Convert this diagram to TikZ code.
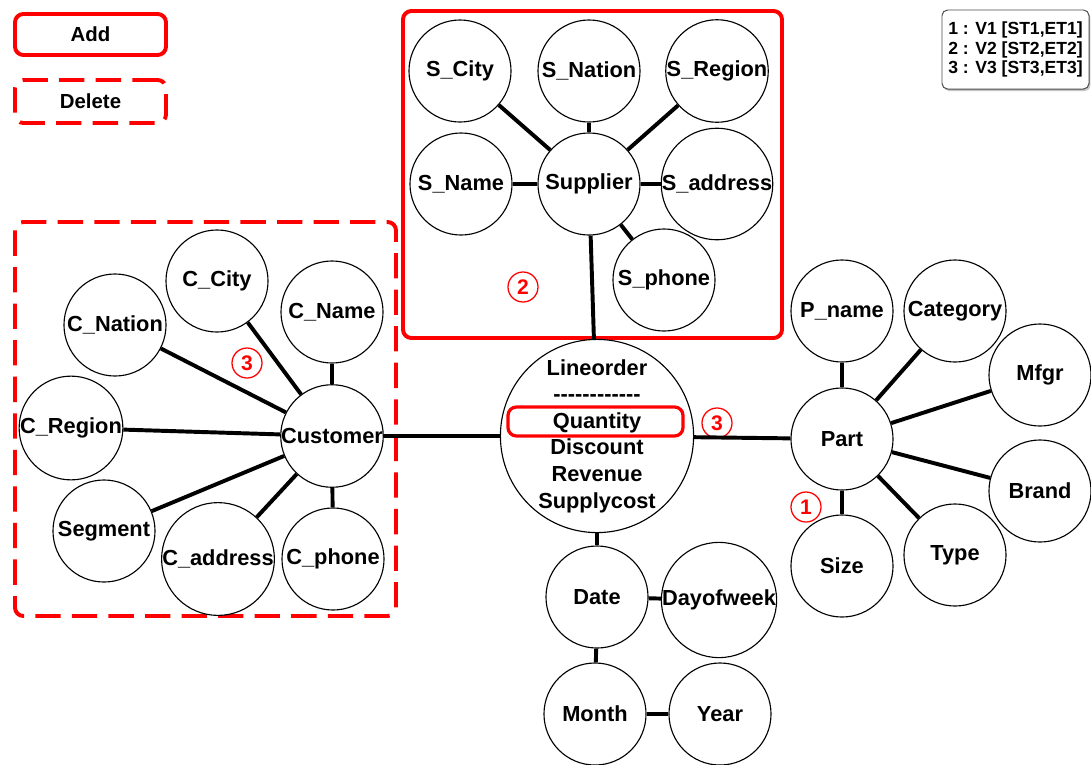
\documentclass[tikz,border=0pt]{standalone}
\usepackage{fontspec}
\setmainfont{Liberation Sans}
\usetikzlibrary{shadows}
\tikzset{>=latex}
\tikzset{
	attr/.style = {circle, draw, line width = 0.8pt, fill = white, minimum size = 2.55cm, inner sep = 0pt, font = \fontsize{15.5}{18}\selectfont\bfseries},
	link/.style = {line width = 2.8pt},
	addline/.style = {draw = red, line width = 2.8pt, rounded corners = 6pt},
	delline/.style = {addline, dash pattern = on 18pt off 8pt},
	verno/.style = {circle, draw = red, text = red, line width = 0.9pt, minimum size = 0.75cm, inner sep = 0pt, font = \fontsize{15}{15}\selectfont\bfseries},
	legend/.style = {draw = black!70, line width = 0.7pt, rounded corners = 4pt, fill = white, drop shadow = {shadow xshift = 1pt, shadow yshift = -1.5pt, fill = black!45}, align = left, minimum width = 3.675cm, minimum height = 1.975cm, font = \fontsize{12.5}{14}\selectfont\bfseries}
}
\newcommand\attr[3]{\node[attr] (#1) at (#2) {#3};}
\newcommand\link[2]{\draw[link] (#1) -- (#2);}
\newcommand\hy{\mbox{-}}

\begin{document}
\begin{tikzpicture}[x = 0.025cm, y = -0.025cm]
	\useasboundingbox (0, 0) rectangle (1091, 764);
	% legend boxes
	\node[addline, minimum width = 3.775cm, minimum height = 1.025cm, font = \fontsize{14.5}{14}\selectfont\bfseries] (add) at (90.5, 34.5) {Add};
	\node[delline, minimum width = 3.775cm, minimum height = 1.075cm, font = \fontsize{14.5}{14}\selectfont\bfseries] (delete) at (90.5, 101.5) {Delete};
	\node[legend] (key) at (1015.5, 49.5) {1 : V1 [ST1,ET1]\\2 : V2 [ST2,ET2]\\3 : V3 [ST3,ET3]};
	% group boxes
	\draw[addline] (403, 11) rectangle (782, 338);
	\draw[delline] (15, 222) rectangle (396, 616);
	% supplier
	\attr{scity}{460, 71}{S\_City}
	\attr{snation}{589, 71}{S\_Nation}
	\attr{sregion}{717, 71}{S\_Region}
	\attr{sname}{461, 184}{S\_Name}
	\attr{supplier}{589, 184}{Supplier}
	\attr{saddress}{717, 184}{S\_address}
	\attr{sphone}{664, 280}{S\_phone}
	% customer
	\attr{ccity}{217, 281}{C\_City}
	\attr{cname}{332, 312}{C\_Name}
	\attr{cnation}{115, 325}{C\_Nation}
	\attr{cregion}{71, 428}{C\_Region}
	\attr{customer}{332, 436}{Customer}
	\attr{segment}{104, 531}{Segment}
	\attr{caddress}{218, 559}{C\_address}
	\attr{cphone}{333, 559}{C\_phone}
	% fact
	\node[attr, minimum size = 4.8cm, align = center, font = \fontsize{15.5}{18.9}\selectfont\bfseries] (lineorder) at (597, 436)
		{Lineorder\\\hy\hy\hy\hy\hy\hy\hy\hy\hy\hy\hy\hy\\Quantity\\Discount\\Revenue\\Supplycost};
	\draw[addline, line width = 2.3pt] (508, 407) rectangle (683, 436);
	% part
	\attr{pname}{842, 311}{P\_name}
	\attr{category}{955, 311}{Category}
	\attr{mfgr}{1040, 375}{Mfgr}
	\attr{part}{842, 439}{Part}
	\attr{brand}{1040, 491}{Brand}
	\attr{type}{955, 555}{Type}
	\attr{size}{842, 566}{Size}
	% date
	\attr{date}{597, 597}{Date}
	\attr{dayofweek}{719, 600}{Dayofweek}
	\attr{month}{595, 714}{Month}
	\attr{year}{720, 714}{Year}
	% versions
	\node[verno] (v2) at (523, 287) {2};
	\node[verno] (v3c) at (247, 363) {3};
	\node[verno] (v3l) at (717, 423) {3};
	\node[verno] (v1) at (806, 507) {1};
	% links
	\link{supplier}{scity} \link{supplier}{snation} \link{supplier}{sregion}
	\link{supplier}{sname} \link{supplier}{saddress} \link{supplier}{sphone}
	\link{customer}{ccity} \link{customer}{cname} \link{customer}{cnation} \link{customer}{cregion}
	\link{customer}{segment} \link{customer}{caddress} \link{customer}{cphone}
	\link{part}{pname} \link{part}{category} \link{part}{mfgr}
	\link{part}{brand} \link{part}{type} \link{part}{size}
	\link{date}{dayofweek} \link{date}{month} \link{month}{year}
	\link{lineorder}{supplier} \link{lineorder}{customer} \link{lineorder}{part} \link{lineorder}{date}
\end{tikzpicture}
\end{document}
